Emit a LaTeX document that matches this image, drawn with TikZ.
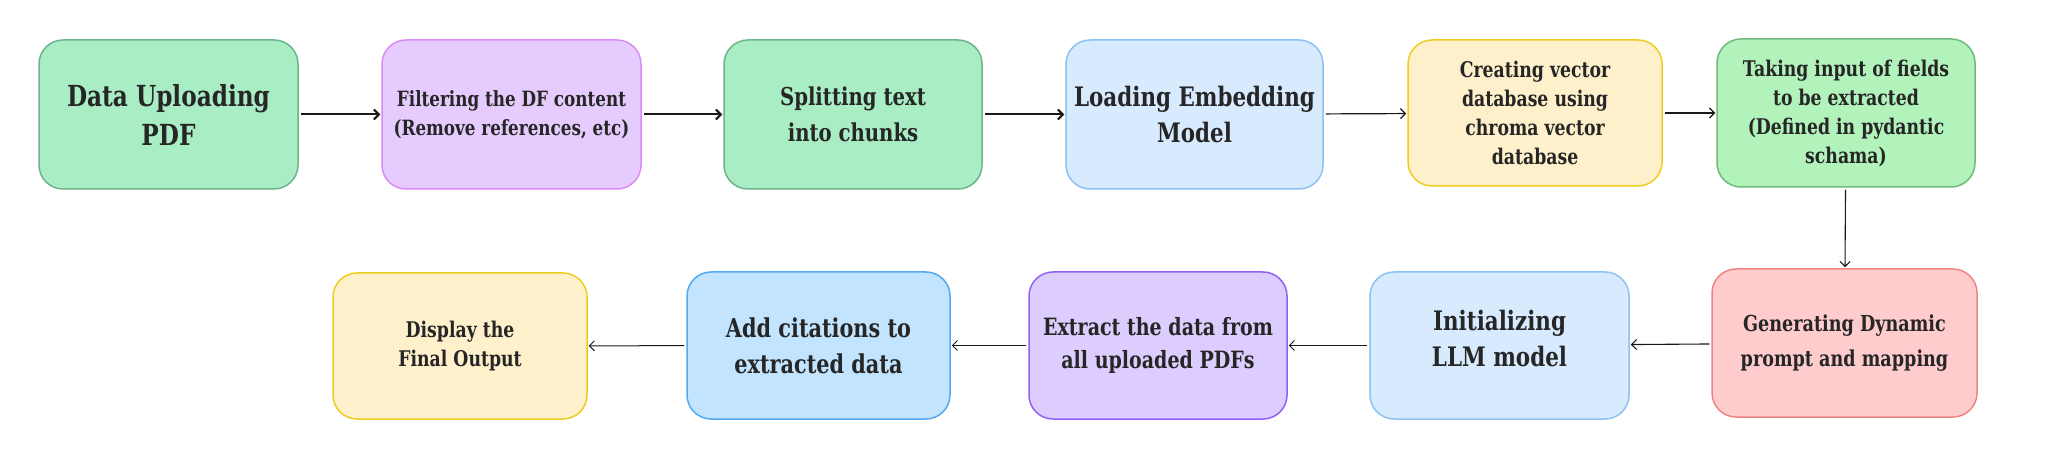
\documentclass[tikz,border=0pt]{standalone}
\usepackage{fontspec}
\setmainfont{DejaVu Serif}[FakeStretch=0.8]
\usetikzlibrary{arrows.meta}
\definecolor{txt}{HTML}{262626}
\definecolor{gfill}{HTML}{A9EDC4}\definecolor{gdraw}{HTML}{6DB48C}
\definecolor{pfill}{HTML}{E6CCFE}\definecolor{pdraw}{HTML}{D98AF5}
\definecolor{bfill}{HTML}{D8EAFE}\definecolor{bdraw}{HTML}{8CC2F5}
\definecolor{yfill}{HTML}{FEF0CA}\definecolor{ydraw}{HTML}{F0CC1E}
\definecolor{g2fill}{HTML}{B2F2BB}\definecolor{g2draw}{HTML}{6EBB7C}
\definecolor{rfill}{HTML}{FECCCC}\definecolor{rdraw}{HTML}{F08484}
\definecolor{vfill}{HTML}{DDCDFE}\definecolor{vdraw}{HTML}{9360F0}
\definecolor{cfill}{HTML}{C2E4FE}\definecolor{cdraw}{HTML}{52A9F0}
\tikzset{
  box/.style={draw, rounded corners=12pt, line width=0.75pt, align=center,
    inner sep=0pt, text=txt, font=\bfseries},
  fbig/.style={font=\bfseries\fontsize{14.5}{19.5}\selectfont},
  fmid/.style={font=\bfseries\fontsize{12.3}{18}\selectfont},
  fmidl/.style={font=\bfseries\fontsize{13.4}{18}\selectfont},
  fmidb/.style={font=\bfseries\fontsize{13}{18}\selectfont},
  fsm/.style={font=\bfseries\fontsize{10.8}{14.5}\selectfont},
  fsmf/.style={font=\bfseries\fontsize{10.5}{14.5}\selectfont},
  fsmb/.style={font=\bfseries\fontsize{11.9}{16.5}\selectfont},
  fsmg/.style={font=\bfseries\fontsize{11}{17.5}\selectfont},
  arr/.style={-{Straight Barb[length=2.5pt,width=5pt]}, draw=black!90, shorten <=1pt, shorten >=0.5pt},
}
\begin{document}
\begin{tikzpicture}[x=0.5pt,y=-0.5pt]
\path[use as bounding box] (0,0) rectangle (2048,459);
% row 1
\node[box, fbig, fill=gfill, draw=gdraw, minimum width=129.5pt, minimum height=74.5pt] (n1) at (168.5,114.5) {Data Uploading\\PDF};
\node[box, fsmf, fill=pfill, draw=pdraw, minimum width=129.5pt, minimum height=74.5pt] (n2) at (511.5,114.5) {Filtering the DF content\\(Remove references, etc)};
\node[box, fmid, fill=gfill, draw=gdraw, minimum width=129pt, minimum height=74.5pt] (n3) at (853,114.5) {Splitting text\\into chunks};
\node[box, fmidl, fill=bfill, draw=bdraw, minimum width=128.5pt, minimum height=74.5pt] (n4) at (1194.5,114.5) {Loading Embedding\\Model};
\node[box, fsm, fill=yfill, draw=ydraw, minimum width=127pt, minimum height=73pt] (n5) at (1535,113) {Creating vector\\database using\\chroma vector\\database};
\node[box, fsm, fill=g2fill, draw=g2draw, minimum width=129pt, minimum height=74pt] (n6) at (1846,113) {Taking input of fields\\to be extracted\\(Defined in pydantic\\schama)};
% row 2
\node[box, fsmg, fill=rfill, draw=rdraw, minimum width=132.5pt, minimum height=74pt] (n7) at (1844.5,343) {Generating Dynamic\\prompt and mapping};
\node[box, fmidl, fill=bfill, draw=bdraw, minimum width=129.5pt, minimum height=73.5pt, text depth=7.5pt] (n8) at (1499.5,345.5) {Initializing\\LLM model};
\node[box, fsmb, fill=vfill, draw=vdraw, minimum width=129pt, minimum height=73.5pt] (n9) at (1158,345.5) {Extract the data from\\all uploaded PDFs};
\node[box, fmidb, fill=cfill, draw=cdraw, minimum width=131.5pt, minimum height=73.5pt] (n10) at (818.5,345.5) {Add citations to\\extracted data};
\node[box, fsm, fill=yfill, draw=ydraw, minimum width=127pt, minimum height=73pt] (n11) at (460,346) {Display the\\Final Output};
% connectors
\draw[arr, line width=1pt] (n1) -- (n2);
\draw[arr, line width=1pt] (n2) -- (n3);
\draw[arr, line width=1pt] (n3) -- (n4);
\draw[arr, line width=0.6pt] (n4) -- (n5);
\draw[arr, line width=0.6pt] (n5) -- (n6);
\draw[arr, line width=0.55pt] (n6) -- (n7);
\draw[arr, line width=0.55pt] (n7) -- (n8);
\draw[arr, line width=0.5pt] (n8) -- (n9);
\draw[arr, line width=0.5pt] (n9) -- (n10);
\draw[arr, line width=0.5pt] (n10) -- (n11);
\end{tikzpicture}
\end{document}
